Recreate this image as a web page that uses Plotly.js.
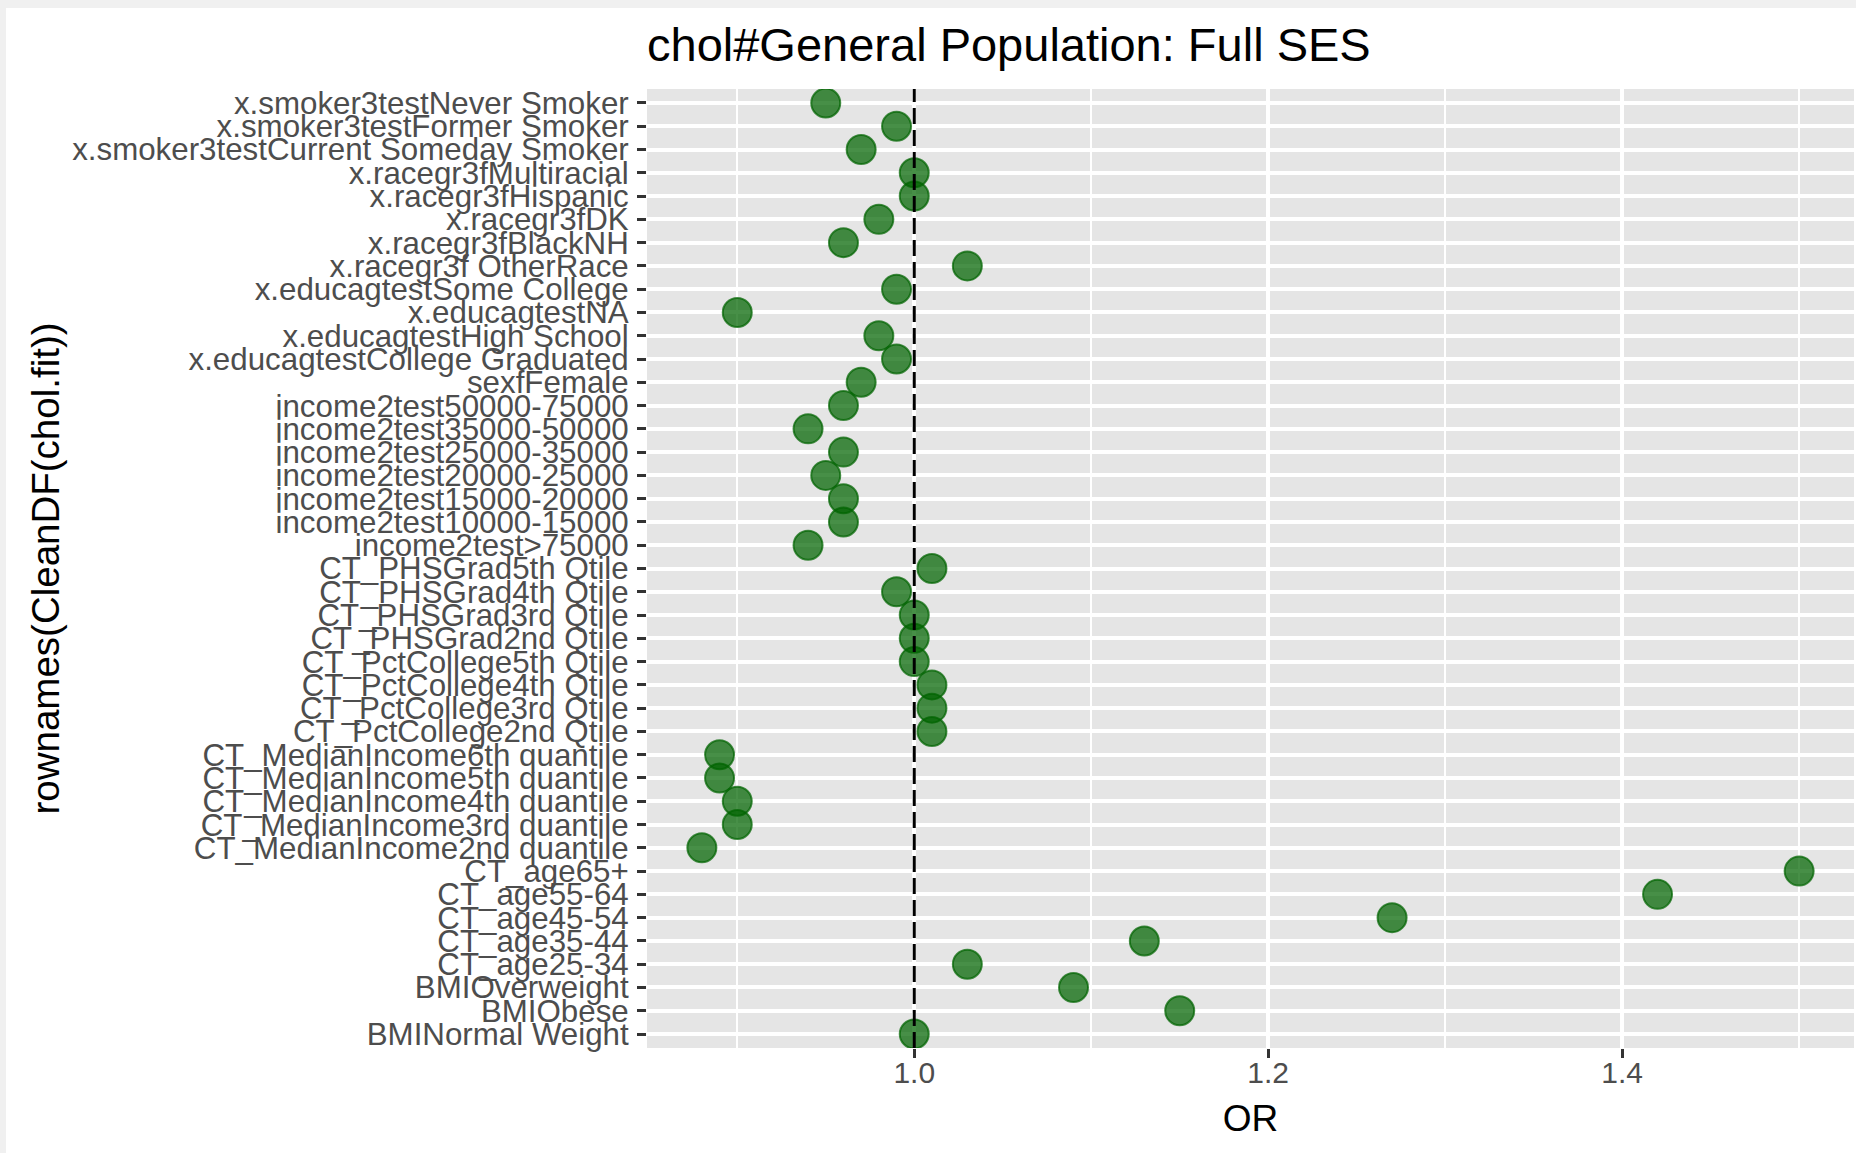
<!DOCTYPE html>
<html>
<head>
<meta charset="utf-8">
<script src="https://cdn.plot.ly/plotly-3.0.1.min.js"></script>
<style>
  html, body { margin: 0; padding: 0; background: #f0f0f0; }
  #chart { position: absolute; left: 6px; top: 8px; width: 1850px; height: 1145px; background: #ffffff; }
</style>
</head>
<body>
<div id="chart"></div>
<script>
// Model terms, listed top to bottom as displayed
const terms = [
  "x.smoker3testNever Smoker",
  "x.smoker3testFormer Smoker",
  "x.smoker3testCurrent Someday Smoker",
  "x.racegr3fMultiracial",
  "x.racegr3fHispanic",
  "x.racegr3fDK",
  "x.racegr3fBlackNH",
  "x.racegr3f OtherRace",
  "x.educagtestSome College",
  "x.educagtestNA",
  "x.educagtestHigh School",
  "x.educagtestCollege Graduated",
  "sexfFemale",
  "income2test50000-75000",
  "income2test35000-50000",
  "income2test25000-35000",
  "income2test20000-25000",
  "income2test15000-20000",
  "income2test10000-15000",
  "income2test>75000",
  "CT_PHSGrad5th Qtile",
  "CT_PHSGrad4th Qtile",
  "CT_PHSGrad3rd Qtile",
  "CT_PHSGrad2nd Qtile",
  "CT_PctCollege5th Qtile",
  "CT_PctCollege4th Qtile",
  "CT_PctCollege3rd Qtile",
  "CT_PctCollege2nd Qtile",
  "CT_MedianIncome6th quantile",
  "CT_MedianIncome5th quantile",
  "CT_MedianIncome4th quantile",
  "CT_MedianIncome3rd quantile",
  "CT_MedianIncome2nd quantile",
  "CT_age65+",
  "CT_age55-64",
  "CT_age45-54",
  "CT_age35-44",
  "CT_age25-34",
  "BMIOverweight",
  "BMIObese",
  "BMINormal Weight"
];

// Odds ratios for each term (same order)
const oddsRatios = [
  0.95, 0.99, 0.97, 1.00, 1.00, 0.98, 0.96, 1.03,
  0.99, 0.90, 0.98, 0.99, 0.97,
  0.96, 0.94, 0.96, 0.95, 0.96, 0.96, 0.94,
  1.01, 0.99, 1.00, 1.00,
  1.00, 1.01, 1.01, 1.01,
  0.89, 0.89, 0.90, 0.90, 0.88,
  1.50, 1.42, 1.27, 1.13, 1.03,
  1.09, 1.15, 1.00
];

const referenceOR = 1.0;
const xMajorTicks = [1.0, 1.2, 1.4];
const xTickText = ["1.0", "1.2", "1.4"];

const nTerms = terms.length;
const xMin = Math.min(...oddsRatios), xMax = Math.max(...oddsRatios);
const xPad = (xMax - xMin) * 0.05;

const trace = {
  type: "scatter",
  mode: "markers",
  x: oddsRatios,
  y: terms,
  marker: {
    size: 29,
    color: "rgba(0,100,0,0.72)",
    line: { color: "rgba(0,100,0,0.72)", width: 2 }
  },
  hoverinfo: "x+y",
  showlegend: false
};

const layout = {
  width: 1850,
  height: 1145,
  paper_bgcolor: "#ffffff",
  plot_bgcolor: "#e5e5e5",
  margin: { l: 641, r: 2, t: 81, b: 105, pad: 0 },
  font: { family: "Liberation Sans, Arial, sans-serif", color: "#000000" },
  title: {
    text: "chol#General Population: Full SES",
    font: { size: 47, color: "#000000", family: "Liberation Sans, Arial, sans-serif" },
    x: 0, xref: "paper", xanchor: "left",
    y: 0.968, yref: "container", yanchor: "middle"
  },
  xaxis: {
    range: [xMin - xPad, xMax + xPad],
    tickmode: "array",
    tickvals: xMajorTicks,
    ticktext: xTickText,
    ticks: "outside",
    ticklen: 9,
    tickwidth: 2.5,
    tickcolor: "#333333",
    tickfont: { size: 30, color: "#4d4d4d" },
    ticklabelstandoff: -11,
    showgrid: true,
    gridcolor: "#ffffff",
    gridwidth: 3.5,
    minor: { dtick: 0.1, tick0: 0.9, showgrid: true, gridcolor: "#ffffff", gridwidth: 1.8, ticks: "" },
    zeroline: false,
    showline: false,
    title: { text: "OR", font: { size: 37, color: "#000000" }, standoff: 17 }
  },
  yaxis: {
    type: "category",
    categoryorder: "array",
    categoryarray: terms,
    range: [nTerms - 1 + 0.6, -0.6],
    tickmode: "array",
    tickvals: terms,
    ticktext: terms,
    ticks: "outside",
    ticklen: 9,
    tickwidth: 2.5,
    tickcolor: "#333333",
    tickfont: { size: 31.3, color: "#4d4d4d" },
    ticklabelstandoff: 2,
    showgrid: true,
    gridcolor: "#ffffff",
    gridwidth: 3.5,
    zeroline: false,
    showline: false,
    title: { text: "rownames(CleanDF(chol.fit))", font: { size: 38.5, color: "#000000" }, standoff: 0 }
  },
  shapes: [{
    type: "line",
    xref: "x", yref: "paper",
    x0: referenceOR, x1: referenceOR, y0: 0, y1: 1,
    line: { color: "#000000", width: 3, dash: "16px,6px" },
    layer: "above"
  }]
};

Plotly.newPlot("chart", [trace], layout, { displayModeBar: false, responsive: false });
</script>
</body>
</html>
